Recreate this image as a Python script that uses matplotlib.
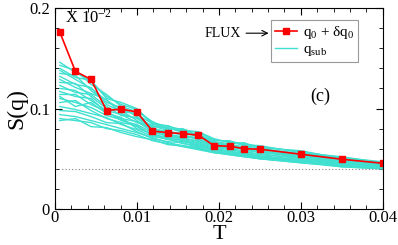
import numpy as np
import matplotlib.pyplot as plt
from matplotlib.ticker import MultipleLocator

plt.rcParams['font.family'] = ['Liberation Serif', 'DejaVu Serif']
plt.rcParams['mathtext.fontset'] = 'custom'
plt.rcParams['mathtext.rm'] = 'Liberation Serif'
plt.rcParams['mathtext.it'] = 'Liberation Serif:italic'

# temperature grid
T = [0.0006, 0.0025, 0.0044, 0.0063, 0.0081, 0.0100, 0.0119, 0.0138, 0.0156,
     0.0175, 0.0194, 0.0213, 0.0231, 0.0250, 0.0300, 0.0350, 0.0400]

# q0 + dq0 (flux)
S_flux = [0.176, 0.137, 0.129, 0.098, 0.0995, 0.0965, 0.0775, 0.076, 0.075,
          0.0735, 0.063, 0.0625, 0.060, 0.0595, 0.0545, 0.0495, 0.0455]

# q_sub curves
S_sub = [
    [.146, .136, .127, .112, .104, .099, .086, .082, .079, .076, .069, .067, .065, .062, .057, .051, .047],
    [.143, .138, .124, .114, .102, .097, .087, .080, .078, .077, .070, .066, .064, .063, .056, .052, .046],
    [.140, .131, .128, .110, .106, .100, .084, .083, .077, .074, .068, .068, .063, .061, .058, .050, .046],
    [.138, .129, .120, .108, .099, .094, .085, .079, .080, .073, .067, .065, .066, .060, .055, .051, .045],
    [.135, .133, .118, .106, .101, .092, .082, .081, .076, .072, .066, .064, .062, .059, .054, .049, .045],
    [.132, .124, .121, .104, .097, .095, .080, .077, .075, .074, .065, .063, .061, .060, .055, .050, .044],
    [.129, .121, .115, .109, .095, .090, .083, .078, .073, .071, .066, .062, .060, .058, .053, .048, .044],
    [.126, .125, .112, .100, .098, .088, .079, .076, .074, .069, .064, .063, .059, .057, .052, .049, .044],
    [.123, .116, .114, .102, .093, .091, .078, .074, .072, .070, .063, .061, .060, .056, .053, .047, .043],
    [.120, .118, .108, .098, .094, .086, .081, .075, .070, .068, .062, .060, .058, .057, .051, .047, .043],
    [.117, .112, .110, .096, .090, .087, .077, .072, .071, .067, .063, .059, .057, .055, .050, .046, .043],
    [.114, .114, .104, .097, .088, .084, .076, .073, .069, .066, .061, .060, .056, .054, .051, .046, .042],
    [.110, .106, .101, .093, .089, .082, .074, .071, .068, .065, .060, .058, .055, .053, .049, .045, .042],
    [.106, .108, .098, .090, .086, .083, .073, .069, .067, .064, .059, .057, .055, .052, .048, .045, .042],
    [.102, .099, .095, .091, .084, .079, .072, .070, .065, .063, .058, .056, .054, .051, .048, .044, .041],
    [.098, .097, .092, .086, .085, .077, .070, .067, .066, .061, .057, .055, .053, .051, .047, .043, .041],
    [.094, .092, .088, .084, .080, .076, .071, .066, .063, .061, .057, .054, .052, .050, .046, .043, .041],
    [.090, .088, .086, .080, .078, .074, .068, .065, .062, .059, .056, .054, .052, .050, .046, .042, .040],
    [.088, .090, .082, .081, .076, .072, .069, .064, .063, .060, .056, .055, .053, .050, .047, .042, .040],
    [.112, .102, .106, .095, .091, .080, .075, .070, .069, .062, .060, .057, .054, .052, .049, .044, .041],
]

S_ref = 0.04  # dotted reference level

xticks = [0, 0.01, 0.02, 0.03, 0.04]
xticklabels = ['0', '0.01', '0.02', '0.03', '0.04']
yticks = [0, 0.1, 0.2]
yticklabels = ['0', '0.1', '0.2']

fig = plt.figure(figsize=(3.98, 2.45), dpi=100)
ax = fig.add_axes([0.138, 0.147, 0.824, 0.82])

for i, s in enumerate(S_sub):
    ax.plot(T, s, color='#40E0D0', lw=1.0, label=r'q$_{\rm sub}$' if i == 0 else None)
ax.plot(T, S_flux, color='red', lw=1.2, marker='s', ms=4.5, label=r'q$_0$ + δq$_0$')
ax.axhline(S_ref, color='gray', lw=0.8, ls=(0, (1, 2)))

ax.set_xlim(0, 0.04)
ax.set_ylim(0, 0.2)
ax.set_xticks(xticks)
ax.set_xticklabels(xticklabels)
ax.set_yticks(yticks)
ax.set_yticklabels(yticklabels)
ax.xaxis.set_minor_locator(MultipleLocator(0.002))
ax.yaxis.set_minor_locator(MultipleLocator(0.02))
ax.tick_params(which='both', direction='in', top=True, right=True, labelsize=12)
ax.tick_params(which='major', length=5)
ax.tick_params(which='minor', length=3)
ax.tick_params(axis='x', pad=1)

ax.set_xlabel('T', fontsize=16, labelpad=-1)
ax.set_ylabel('S(q)', fontsize=17, labelpad=1)

handles, labels = ax.get_legend_handles_labels()
leg = ax.legend(handles[::-1], labels[::-1], loc='upper right', bbox_to_anchor=(0.924, 0.94),
                fontsize=11, fancybox=False, edgecolor='gray', handlelength=1.4,
                handletextpad=0.4, borderpad=0.25, labelspacing=0.1, borderaxespad=0)
leg.get_frame().set_linewidth(0.8)

ax.text(0.0012, 0.190, r'X 10$^{-2}$', fontsize=12, va='center')
ax.annotate('FLUX', xy=(0.0264, 0.175), xytext=(0.0182, 0.175), fontsize=10, va='center',
            arrowprops=dict(arrowstyle='->', color='black', lw=0.8))
ax.text(0.0324, 0.112, '(c)', fontsize=13, ha='center', va='center')

fig.savefig('out.png', dpi=100)
